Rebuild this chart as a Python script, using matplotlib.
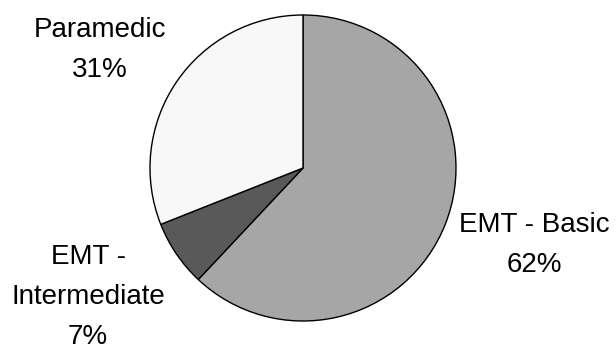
import matplotlib
matplotlib.use("Agg")
import matplotlib.pyplot as plt

# Certification level share
categories = ["EMT - Basic", "EMT - Intermediate", "Paramedic"]
shares = [62, 7, 31]
label_texts = ["EMT - Basic", "EMT -\nIntermediate", "Paramedic"]
colors = ["#A6A6A6", "#595959", "#F8F8F8"]

# label anchor points (in pie radius units)
label_xy = [(1.51, -0.50), (-1.405, -0.845), (-1.327, 0.772)]

plt.rcParams["font.family"] = ["Liberation Sans", "DejaVu Sans"]

W, H = 616, 349
fig = plt.figure(figsize=(W / 100, H / 100), dpi=100)
cx, cy, r = 303, 168, 153
ax = fig.add_axes([(cx - r) / W, (H - cy - r) / H, 2 * r / W, 2 * r / H])

ax.pie(shares, colors=colors, startangle=90, counterclock=False, radius=1,
       wedgeprops=dict(edgecolor="black", linewidth=1.0))
ax.set_xlim(-1, 1)
ax.set_ylim(-1, 1)
ax.set_aspect("equal")
ax.axis("off")

for txt, val, (x, y) in zip(label_texts, shares, label_xy):
    ax.text(x, y, f"{txt}\n{val}%", ha="center", va="center",
            multialignment="center", fontsize=20, linespacing=1.7,
            color="black")

fig.savefig("out.png", dpi=100)
